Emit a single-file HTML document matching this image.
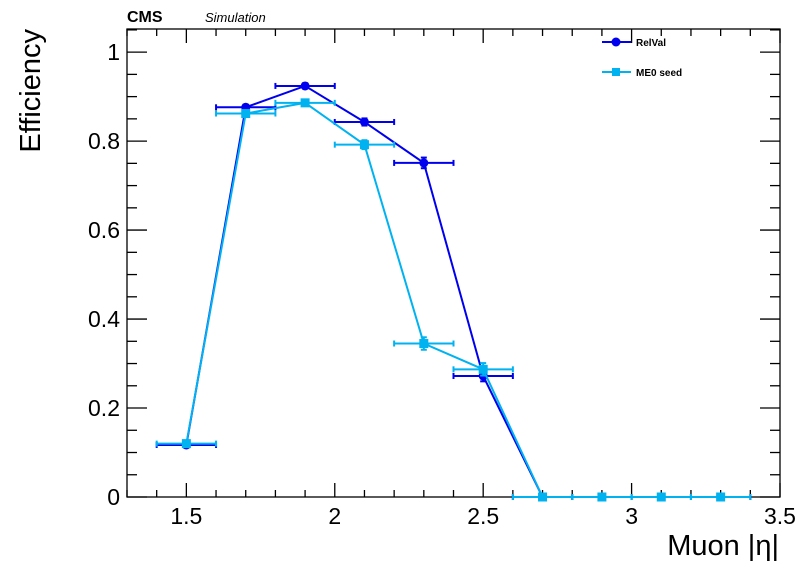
<!DOCTYPE html>
<html><head><meta charset="utf-8"><style>
body{margin:0;background:#fff}
svg{display:block;font-family:"Liberation Sans",Arial,sans-serif}
</style></head><body>
<svg id="c" width="796" height="572"></svg>
<script>
const centers=[1.5,1.7,1.9,2.1,2.3,2.5,2.7,2.9,3.1,3.3];
const relval=[0.117,0.876,0.924,0.843,0.751,0.272,0,0,0,0];
const me0=[0.120,0.862,0.886,0.792,0.345,0.287,0,0,0,0];
const relvalErr=[0.006,0.006,0.006,0.008,0.012,0.012,0,0,0,0];
const me0Err=[0.006,0.006,0.006,0.010,0.014,0.014,0,0,0,0];
const xTicks=[1.5,2,2.5,3,3.5];
const xTickLabels=["1.5","2","2.5","3","3.5"];
const yTicks=[0,0.2,0.4,0.6,0.8,1];
const yTickLabels=["0","0.2","0.4","0.6","0.8","1"];
const X0=127,X1=780,Y0=497,Y1=29,xmin=1.3,xmax=3.5,ymin=0,ymax=1.052;
const sx=v=>X0+(v-xmin)/(xmax-xmin)*(X1-X0);
const sy=v=>Y0-(v-ymin)/(ymax-ymin)*(Y0-Y1);
const svg=document.getElementById('c');const NS="http://www.w3.org/2000/svg";
function mk(t,a,p){const e=document.createElementNS(NS,t);for(const k in a)e.setAttribute(k,a[k]);(p||svg).appendChild(e);return e;}
const frame=mk('rect',{x:X0,y:Y1,width:X1-X0,height:Y0-Y1,fill:'none',stroke:'#000','stroke-width':1.3});


const ax=mk('g',{stroke:'#000','stroke-width':1.3});


for(let i=0;i<=22;i++){const v=xmin+i*0.1;const x=sx(v);const maj=Math.abs(v*2-Math.round(v*2))<1e-6;const L=maj?14:7;
mk('line',{x1:x,y1:Y0,x2:x,y2:Y0-L},ax);mk('line',{x1:x,y1:Y1,x2:x,y2:Y1+L},ax);}
for(let i=0;i<=21;i++){const v=i*0.05;const y=sy(v);const maj=(i%4===0);const L=maj?20:10;
mk('line',{x1:X0,y1:y,x2:X0+L,y2:y},ax);mk('line',{x1:X1,y1:y,x2:X1-L,y2:y},ax);}
xTicks.forEach((v,i)=>{const t=mk('text',{x:sx(v),y:524,'font-size':23,'text-anchor':'middle'});t.textContent=xTickLabels[i];

});
yTicks.forEach((v,i)=>{const t=mk('text',{x:120,y:sy(v)+8,'font-size':23,'text-anchor':'end'});t.textContent=yTickLabels[i];

});
function series(vals,errs,color,square,name){
const g=mk('g',{});


mk('polyline',{points:centers.map((c,i)=>sx(c)+','+sy(vals[i])).join(' '),fill:'none',stroke:color,'stroke-width':2},g);
centers.forEach((c,i)=>{const x=sx(c),y=sy(vals[i]);const xa=sx(c-0.1),xb=sx(c+0.1);
mk('line',{x1:xa,y1:y,x2:xb,y2:y,stroke:color,'stroke-width':2},g);
mk('line',{x1:xa,y1:y-3,x2:xa,y2:y+3,stroke:color,'stroke-width':2},g);
mk('line',{x1:xb,y1:y-3,x2:xb,y2:y+3,stroke:color,'stroke-width':2},g);
const e=errs[i];if(e>0){const ya=sy(vals[i]+e),yb=sy(vals[i]-e);
mk('line',{x1:x,y1:ya,x2:x,y2:yb,stroke:color,'stroke-width':2},g);
mk('line',{x1:x-3,y1:ya,x2:x+3,y2:ya,stroke:color,'stroke-width':2},g);
mk('line',{x1:x-3,y1:yb,x2:x+3,y2:yb,stroke:color,'stroke-width':2},g);}
const m=square?mk('rect',{x:x-4.5,y:y-4.5,width:9,height:9,fill:color},g):mk('circle',{cx:x,cy:y,r:4.5,fill:color},g);

});}
series(relval,relvalErr,'#0000ee',false,'relval-series');
series(me0,me0Err,'#00b2f0',true,'me0-seed-series');
</script>
<svg width="796" height="572" style="position:absolute;left:0;top:0">
<g font-family="Liberation Sans,Arial,sans-serif" font-weight="bold" font-size="10">
<line x1="602" y1="42" x2="631" y2="42" stroke="#0000ee" stroke-width="2"/><circle cx="616" cy="42" r="4.5" fill="#0000ee"/>
<text x="636" y="46">RelVal</text>
<line x1="602" y1="72" x2="631" y2="72" stroke="#00b2f0" stroke-width="2"/><rect x="612" y="68" width="8" height="8" fill="#00b2f0"/>
<text x="636" y="76">ME0 seed</text>
</g>
<text x="127" y="22" font-family="Liberation Sans,Arial,sans-serif" font-weight="bold" font-size="16">CMS</text>
<text x="205" y="22" font-family="Liberation Sans,Arial,sans-serif" font-style="italic" font-size="13">Simulation</text>
<text transform="translate(40,29) rotate(-90)" text-anchor="end" font-family="Liberation Sans,Arial,sans-serif" font-size="29">Efficiency</text>
<text x="779" y="555" text-anchor="end" font-family="Liberation Sans,Arial,sans-serif" font-size="29">Muon |η|</text>
</svg>
</body></html>
